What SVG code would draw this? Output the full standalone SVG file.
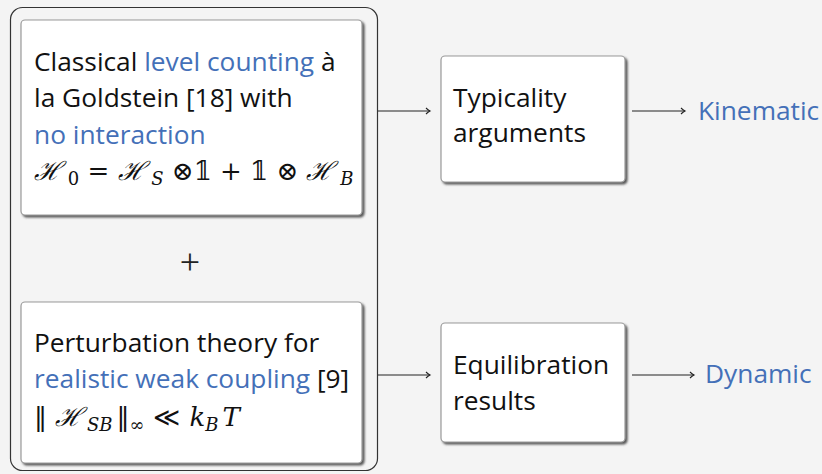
<svg xmlns="http://www.w3.org/2000/svg" width="822" height="474" viewBox="0 0 822 474">
<defs>
<style>
.t{font-family:"Open Sans","DejaVu Sans",sans-serif;font-size:26.3px;fill:#111}
.b{fill:#4470b8}
.m{font-family:"DejaVu Serif","Liberation Serif",serif;font-size:26px;fill:#111}
.mi{font-style:italic}
.sub{font-size:18px}
.box{fill:#fff;stroke:#9a9a9a;stroke-width:1.2}
.con{stroke:#222;stroke-width:1.1;fill:none}
</style>
<filter id="sh" x="-10%" y="-10%" width="125%" height="125%">
<feDropShadow dx="2" dy="2" stdDeviation="1.2" flood-color="#444" flood-opacity="0.9"/>
</filter>
<marker id="ah" markerWidth="10" markerHeight="10" refX="7" refY="5" orient="auto" markerUnits="userSpaceOnUse">
<path d="M3,2 Q5,4 7,5 Q5,6 3,8" fill="none" stroke="#222" stroke-width="1.1"/>
</marker>
</defs>
<rect width="822" height="474" fill="#f4f4f4"/>
<g id="group">
<rect x="10.5" y="7.5" width="367" height="463" rx="12" fill="none" stroke="#333" stroke-width="1.2"/>
<text x="190" y="274" font-family="Liberation Serif, serif" font-size="36" fill="#222" text-anchor="middle">+</text>
</g>
<g id="classical">
<rect x="21" y="20" width="341" height="195" rx="4" class="box" filter="url(#sh)"/>
<text class="t" x="34" y="71">Classical <tspan class="b">level counting</tspan> à</text>
<text class="t" x="34" y="107">la Goldstein [18] with</text>
<text class="t" x="34" y="144"><tspan class="b">no interaction</tspan></text>
<text class="m" x="34" y="180"><tspan class="mi">ℋ</tspan><tspan class="sub" dy="5"> 0</tspan><tspan dy="-5"> = </tspan><tspan class="mi">ℋ</tspan><tspan class="sub mi" dy="5"> S</tspan><tspan dy="-5"> ⊗𝟙 + 𝟙 ⊗ </tspan><tspan class="mi">ℋ</tspan><tspan class="sub mi" dy="5"> B</tspan></text>
</g>
<g id="perturbation">
<rect x="21" y="302" width="341" height="161" rx="4" class="box" filter="url(#sh)"/>
<text class="t" x="34" y="352">Perturbation theory for</text>
<text class="t" x="34" y="388"><tspan class="b">realistic weak coupling</tspan> [9]</text>
<text class="m" x="34" y="426">‖<tspan class="mi" dx="8">ℋ</tspan><tspan class="sub mi" dy="5" dx="4">SB</tspan><tspan dy="-5" dx="4">‖</tspan><tspan class="sub" dy="5">∞</tspan><tspan dy="-5" dx="8">≪</tspan><tspan class="mi" dx="10">k</tspan><tspan class="sub mi" dy="5">B</tspan><tspan class="mi" dy="-5" dx="4">T</tspan></text>
</g>
<g id="typicality">
<rect x="441" y="56" width="184" height="126" rx="4" class="box" filter="url(#sh)"/>
<text class="t" x="453" y="107">Typicality</text>
<text class="t" x="453" y="142">arguments</text>
</g>
<g id="equilibration">
<rect x="441" y="323" width="184" height="119" rx="4" class="box" filter="url(#sh)"/>
<text class="t" x="453" y="374">Equilibration</text>
<text class="t" x="453" y="410">results</text>
</g>
<g id="kinematic"><text class="t b" x="698" y="120">Kinematic</text></g>
<g id="dynamic"><text class="t b" x="705" y="383">Dynamic</text></g>
<g id="connectors">
<line class="con" x1="378" y1="111" x2="430" y2="111" marker-end="url(#ah)"/>
<line class="con" x1="632" y1="111" x2="685" y2="111" marker-end="url(#ah)"/>
<line class="con" x1="378" y1="375" x2="430" y2="375" marker-end="url(#ah)"/>
<line class="con" x1="632" y1="375" x2="694" y2="375" marker-end="url(#ah)"/>
</g>
</svg>
